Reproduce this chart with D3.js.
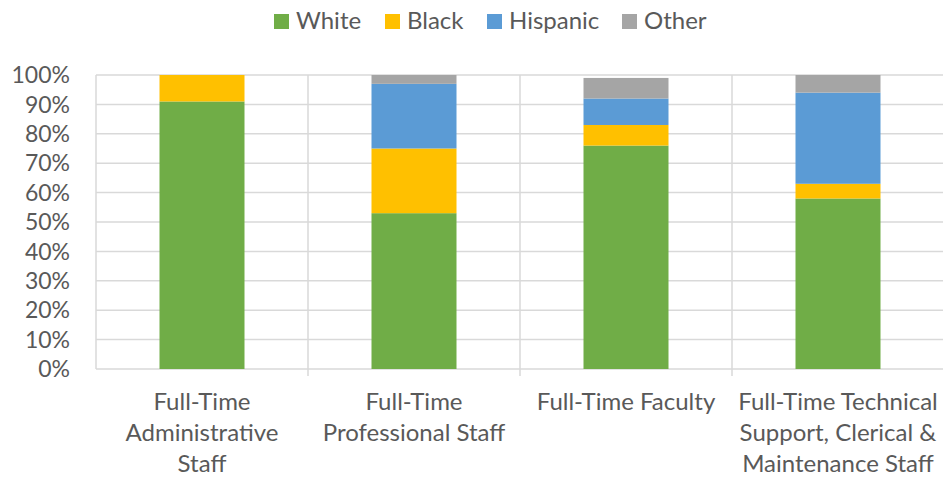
<!DOCTYPE html>
<html><head><meta charset="utf-8">
<script src="https://cdn.jsdelivr.net/npm/d3@7"></script>
<style>body{margin:0;background:#fff}svg{display:block}text{font-family:Lato,"Open Sans",sans-serif;fill:#595959}</style>
</head><body><svg id="c" width="943" height="477"></svg>
<script>
const categories = [["Full-Time","Administrative","Staff"],["Full-Time","Professional Staff"],["Full-Time Faculty"],["Full-Time Technical","Support, Clerical &","Maintenance Staff"]];
const seriesNames = ["White","Black","Hispanic","Other"];
const colors = ["#70AD47","#FFC000","#5B9BD5","#A5A5A5"];
const white = [91,53,76,58];
const black = [9,22,7,5];
const hispanic = [0,22,9,31];
const other = [0,3,7,6];
const yTicks = [0,10,20,30,40,50,60,70,80,90,100];

(function(){
const svg = d3.select("#c");
const pL = 96, pR = 944, pT = 75, pB = 369;
const x = d3.scaleBand().domain(d3.range(categories.length)).range([pL, pR]).paddingInner(0).paddingOuter(0);
const y = d3.scaleLinear().domain([0,100]).range([pB, pT]);

svg.append("g").selectAll("line").data(yTicks).join("line")
  .attr("x1", pL).attr("x2", pR).attr("y1", d=>y(d)).attr("y2", d=>y(d))
  .attr("stroke", "#D9D9D9").attr("stroke-width", 1.5);
const seps = d3.range(categories.length).map(i => x(i));
svg.append("g").selectAll("line").data(seps).join("line")
  .attr("x1", d=>d).attr("x2", d=>d).attr("y1", pT).attr("y2", (d,i)=> i===0 ? pB : pB+7)
  .attr("stroke", "#D9D9D9").attr("stroke-width", 1.5);

svg.append("g").selectAll("text").data(yTicks).join("text")
  .attr("x", 70).attr("y", d=>y(d)).attr("dy", "0.36em").attr("text-anchor","end")
  .attr("font-size", 23).text(d=>d+"%");

const data = categories.map((c,i)=>({i, White:white[i], Black:black[i], Hispanic:hispanic[i], Other:other[i]}));
const stack = d3.stack().keys(seriesNames)(data);
const barW = 85;
svg.append("g").selectAll("g").data(stack).join("g").attr("fill", (d,i)=>colors[i])
  .selectAll("rect").data(d=>d).join("rect")
  .attr("x", d=>x(d.data.i) + x.bandwidth()/2 - barW/2)
  .attr("width", barW)
  .attr("y", d=>y(d[1]))
  .attr("height", d=>y(d[0]) - y(d[1]));

const xl = svg.append("g");
categories.forEach((lines,i)=>{
  const t = xl.append("text").attr("text-anchor","middle").attr("font-size",24);
  lines.forEach((ln,j)=>{
    t.append("tspan").attr("x", x(i)+x.bandwidth()/2).attr("y", 410 + j*31).text(ln);
  });
});

const legX = [274, 385, 487, 622];
const lg = svg.append("g");
seriesNames.forEach((s,i)=>{
  lg.append("rect").attr("x", legX[i]).attr("y", 14).attr("width", 15).attr("height", 15).attr("fill", colors[i]);
  lg.append("text").attr("x", legX[i]+22).attr("y", 29).attr("font-size",24).text(s);
});
})();
</script></body></html>
